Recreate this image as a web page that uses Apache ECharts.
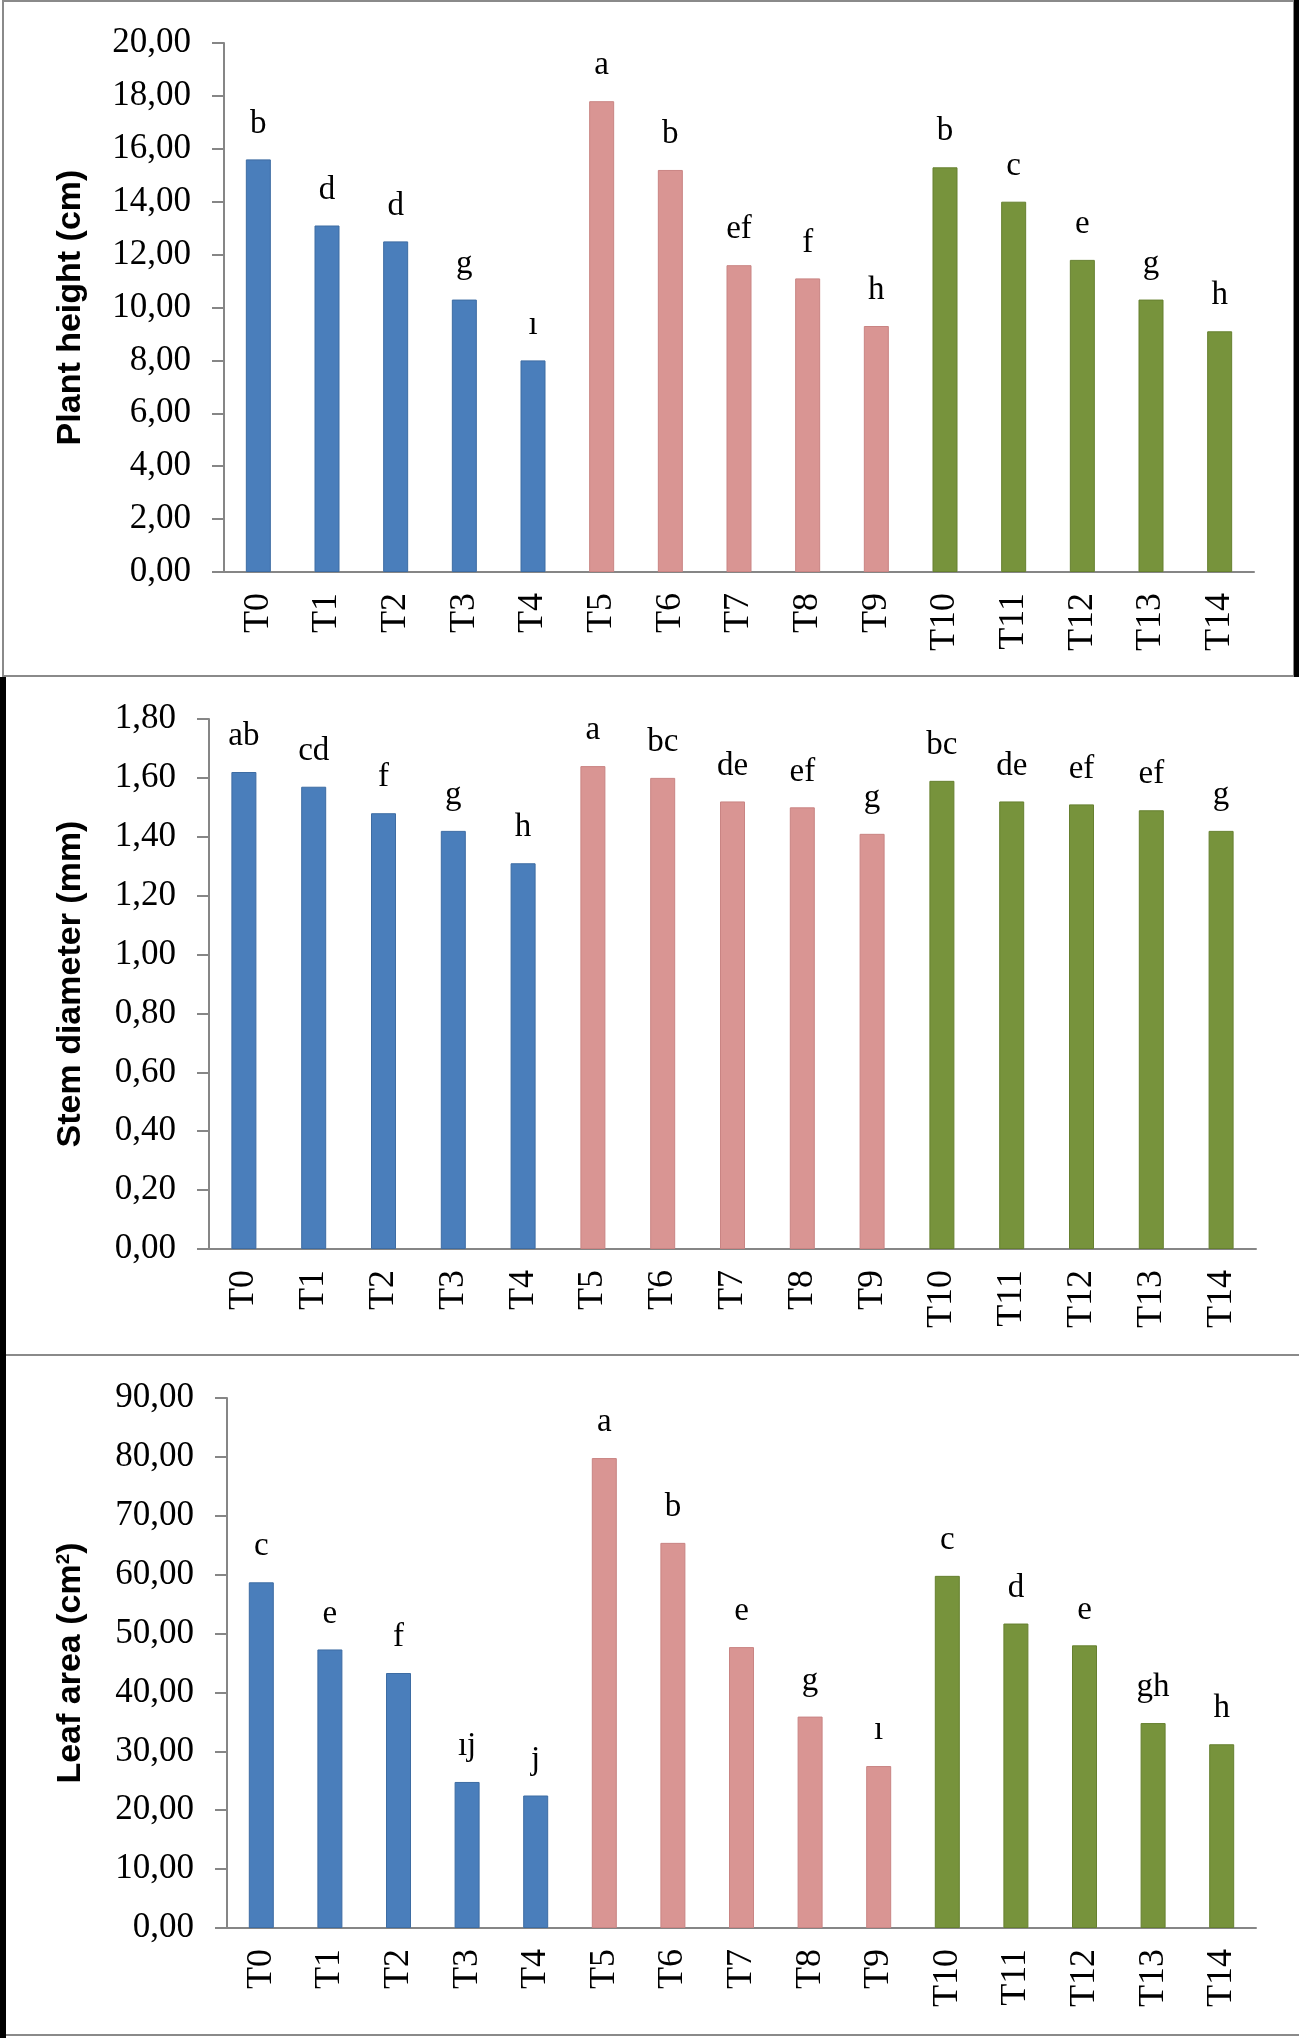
<!DOCTYPE html>
<html lang="en">
<head>
<meta charset="UTF-8">
<title>Plant height, stem diameter and leaf area</title>
<style type="text/css">
  html, body { margin: 0; padding: 0; background: #fff; }
  #chart { width: 1299px; height: 2038px; }
</style>
</head>
<body>
<div id="chart"></div>
<script src="https://cdn.jsdelivr.net/npm/echarts@6/dist/echarts.min.js"></script>
<script type="text/javascript">
// treatments
var categories = ['T0', 'T1', 'T2', 'T3', 'T4', 'T5', 'T6', 'T7', 'T8', 'T9', 'T10', 'T11', 'T12', 'T13', 'T14'];

// plant height (cm)
var heightValues  = [15.6, 13.1, 12.5, 10.3, 8.0, 17.8, 15.2, 11.6, 11.1, 9.3, 15.3, 14.0, 11.8, 10.3, 9.1];
var heightLetters = ['b', 'd', 'd', 'g', 'ı', 'a', 'b', 'ef', 'f', 'h', 'b', 'c', 'e', 'g', 'h'];

// stem diameter (mm)
var stemValues  = [1.62, 1.57, 1.48, 1.42, 1.31, 1.64, 1.60, 1.52, 1.50, 1.41, 1.59, 1.52, 1.51, 1.49, 1.42];
var stemLetters = ['ab', 'cd', 'f', 'g', 'h', 'a', 'bc', 'de', 'ef', 'g', 'bc', 'de', 'ef', 'ef', 'g'];

// leaf area (cm2)
var leafValues  = [58.7, 47.3, 43.3, 24.8, 22.5, 79.8, 65.4, 47.7, 35.9, 27.5, 59.8, 51.7, 48.0, 34.8, 31.2];
var leafLetters = ['c', 'e', 'f', 'ıj', 'j', 'a', 'b', 'e', 'g', 'ı', 'c', 'd', 'e', 'gh', 'h'];

// one colour per group of five treatments
var groupColors  = ['#4A7EBB', '#D99593', '#77933C'];
var groupBorders = ['#3D6CA3', '#C98483', '#66802F'];

var myChart = echarts.init(document.getElementById('chart'));

var serif = 'Liberation Serif';
var sans = 'Liberation Sans';
var axisGray = '#868686';

// grid boxes of the three panels
var grids = [
    { left: 224, top: 43, width: 1030, height: 529 },
    { left: 209, top: 719, width: 1047, height: 530 },
    { left: 227, top: 1398, width: 1029, height: 530 }
];

var panels = [
    { values: heightValues, letters: heightLetters, name: 'Plant height (cm)', max: 20, interval: 2, gap: 136 },
    { values: stemValues, letters: stemLetters, name: 'Stem diameter (mm)', max: 1.8, interval: 0.2, gap: 121 },
    { values: leafValues, letters: leafLetters, name: 'Leaf area (cm{sup|2})', max: 90, interval: 10, gap: 139 }
];

var xAxes = [], yAxes = [], series = [];
for (var i = 0; i < panels.length; i++) {
    var p = panels[i];
    xAxes.push({
        type: 'category',
        gridIndex: i,
        data: categories,
        axisLine: { lineStyle: { color: axisGray, width: 2 } },
        axisTick: { show: false },
        axisLabel: { rotate: 90, margin: 21, color: '#000', fontFamily: serif, fontSize: 36, interval: 0 }
    });
    yAxes.push({
        type: 'value',
        gridIndex: i,
        min: 0,
        max: p.max,
        interval: p.interval,
        splitLine: { show: false },
        axisLine: { show: true, lineStyle: { color: axisGray, width: 2 } },
        axisTick: { show: true, length: 12, lineStyle: { color: axisGray, width: 2 } },
        axisLabel: {
            margin: 33, color: '#000', fontFamily: serif, fontSize: 35,
            formatter: function (v) { return v.toFixed(2).replace('.', ','); }
        },
        name: p.name,
        nameLocation: 'middle',
        nameRotate: 90,
        nameGap: p.gap,
        nameTextStyle: {
            color: '#000', fontFamily: sans, fontWeight: 'bold', fontSize: 34,
            rich: { sup: { fontFamily: sans, fontWeight: 'bold', fontSize: 19, verticalAlign: 'top', color: '#000' } }
        }
    });
    series.push({
        type: 'bar',
        xAxisIndex: i,
        yAxisIndex: i,
        barWidth: 25,
        data: p.values.map(function (v, k) {
            return {
                value: v,
                itemStyle: { color: groupColors[Math.floor(k / 5)], borderColor: groupBorders[Math.floor(k / 5)], borderWidth: 1 }
            };
        }),
        label: {
            show: true,
            position: 'top',
            distance: 19,
            color: '#000',
            fontFamily: serif,
            fontSize: 33,
            formatter: (function (letters) {
                return function (params) { return letters[params.dataIndex]; };
            })(p.letters)
        },
        silent: true
    });
}

// panel frames
var frames = [
    { type: 'rect', shape: { x: 3, y: 1, width: 1291, height: 675 }, style: { fill: null, stroke: '#8a8a8a', lineWidth: 2 } },
    { type: 'rect', shape: { x: 1294, y: 0, width: 5, height: 677 }, style: { fill: '#000' } },
    { type: 'rect', shape: { x: 0, y: 677, width: 6, height: 1361 }, style: { fill: '#000' } },
    { type: 'line', shape: { x1: 6, y1: 1355, x2: 1299, y2: 1355 }, style: { stroke: '#8a8a8a', lineWidth: 2 } },
    { type: 'line', shape: { x1: 6, y1: 2035, x2: 1299, y2: 2035 }, style: { stroke: '#8a8a8a', lineWidth: 2 } }
];

var option = {
    backgroundColor: '#fff',
    animation: false,
    grid: grids,
    xAxis: xAxes,
    yAxis: yAxes,
    series: series,
    graphic: frames
};

myChart.setOption(option);
</script>
</body>
</html>
